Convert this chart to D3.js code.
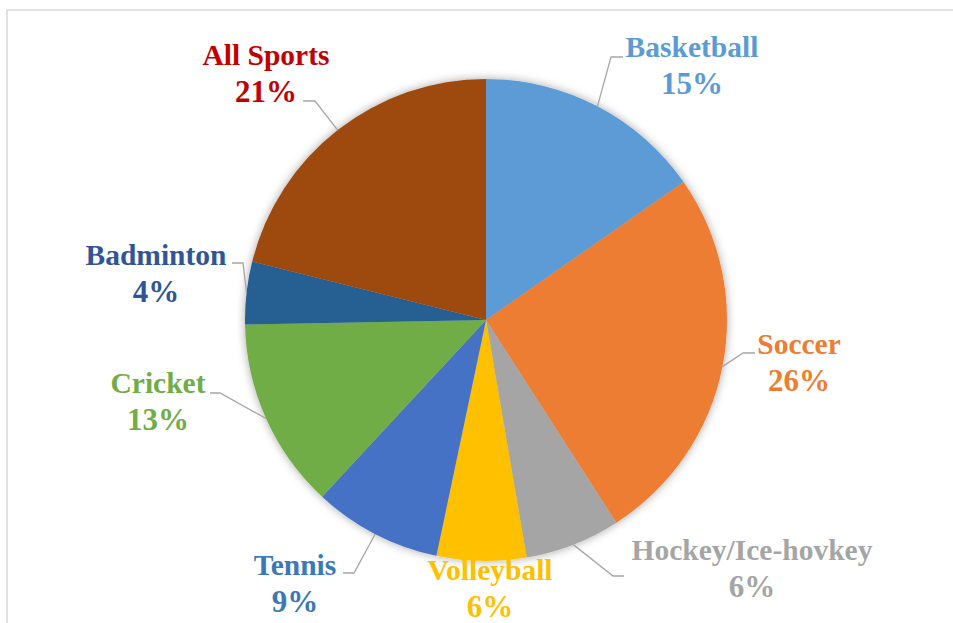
<!DOCTYPE html>
<html>
<head>
<meta charset="utf-8">
<script src="https://cdn.jsdelivr.net/npm/d3@7/dist/d3.min.js"></script>
<style>
  html, body { margin: 0; padding: 0; background: #fff; }
  svg { display: block; }
</style>
</head>
<body>
<svg id="chart" width="953" height="623"></svg>
<script>
// ---- data ----
const categories = ["Basketball", "Soccer", "Hockey/Ice-hovkey", "Volleyball", "Tennis", "Cricket", "Badminton", "All Sports"];
const values = [15.3, 25.6, 6.4, 6.0, 8.6, 12.8, 4.2, 21.1];
const sliceColors = ["#5b9bd5", "#ed7d31", "#a5a5a5", "#ffc000", "#4472c4", "#70ad47", "#255e91", "#9e480e"];
const labelColors = ["#5b9bd5", "#ed7d31", "#a5a5a5", "#ffc000", "#3a78b8", "#70ad47", "#2f5597", "#c00000"];

// ---- layout (label placement) ----
// label center x, first-line baseline y, elbow point, horizontal end point (null = no leader)
const labelLayout = [
  { x: 692, y: 57,  elbow: [611, 57],  end: [623, 57] },
  { x: 799, y: 354, elbow: [743, 353], end: [755, 353] },
  { x: 752, y: 560, elbow: [613, 576], end: [624, 576] },
  { x: 490, y: 580, elbow: null, end: null },
  { x: 295, y: 575, elbow: [354, 573], end: [343, 573] },
  { x: 158, y: 393, elbow: [220, 393], end: [210, 393] },
  { x: 156, y: 265, elbow: [243, 263], end: [232, 263] },
  { x: 266, y: 65,  elbow: [315, 101], end: [303, 101] }
];

const svg = d3.select("#chart");
const W = 953, H = 623;
const cx = 486, cy = 320, R = 241;

// frame
svg.append("path")
  .attr("d", `M7,${H + 5} L7,10 L${W + 5},10`)
  .attr("fill", "none")
  .attr("stroke", "#d9d9d9")
  .attr("stroke-width", 1.5);

// shadow filter
const defs = svg.append("defs");
const f = defs.append("filter").attr("id", "shadow")
  .attr("x", "-20%").attr("y", "-20%").attr("width", "140%").attr("height", "140%");
f.append("feDropShadow")
  .attr("dx", 0).attr("dy", 0).attr("stdDeviation", 5)
  .attr("flood-color", "#000").attr("flood-opacity", 0.35);

const data = categories.map((c, i) => ({ name: c, value: values[i], i }));
const total = d3.sum(values);
const pie = d3.pie().sort(null).value(d => d.value);
const arcs = pie(data);
const arc = d3.arc().innerRadius(0).outerRadius(R);

const g = svg.append("g").attr("transform", `translate(${cx},${cy})`);
const pieG = g.append("g").attr("filter", "url(#shadow)");
pieG.selectAll("path.slice")
  .data(arcs)
  .join("path")
  .attr("class", "slice")
  .attr("d", arc)
  .attr("fill", d => sliceColors[d.data.i]);

// leader lines
const fmt = d3.format(".0%");
arcs.forEach(a => {
  const L = labelLayout[a.data.i];
  if (!L.elbow) return;
  const mid = (a.startAngle + a.endAngle) / 2;
  const px = cx + R * Math.sin(mid);
  const py = cy - R * Math.cos(mid);
  svg.append("polyline")
    .attr("points", [[px, py], L.elbow, L.end].map(p => p.join(",")).join(" "))
    .attr("fill", "none")
    .attr("stroke", "#a6a6a6")
    .attr("stroke-width", 1.3);
});

// labels
arcs.forEach(a => {
  const L = labelLayout[a.data.i];
  const t = svg.append("text")
    .attr("text-anchor", "middle")
    .attr("font-family", "'Liberation Serif', 'Times New Roman', serif")
    .attr("font-weight", "bold")
    .attr("fill", labelColors[a.data.i]);
  t.append("tspan").attr("x", L.x).attr("y", L.y).attr("font-size", 29.5).text(a.data.name);
  t.append("tspan").attr("x", L.x).attr("y", L.y + 37).attr("font-size", 31).text(fmt(a.data.value / total));
});
</script>
</body>
</html>
